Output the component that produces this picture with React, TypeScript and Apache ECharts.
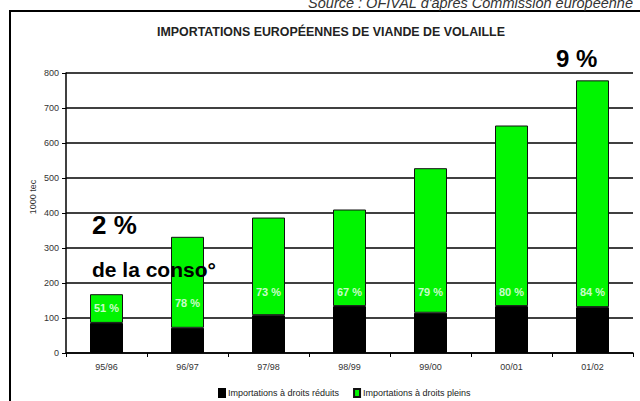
import React, { useEffect, useRef } from "react";
import * as echarts from "echarts";

const categories = ["95/96", "96/97", "97/98", "98/99", "99/00", "00/01", "01/02"];
const reduits = [86, 72, 108, 134, 115, 134, 131];
const pleins = [82, 260, 279, 276, 413, 516, 648];
const pctLabels = ["51 %", "78 %", "73 %", "67 %", "79 %", "80 %", "84 %"];
const pctLabelPos = [129, 144, 174, 174, 174, 174, 174];
const yTicks = { min: 0, max: 800, interval: 100 };

const FONT = "'Liberation Sans', Arial, sans-serif";

export default function App() {
  const ref = useRef<HTMLDivElement>(null);
  useEffect(() => {
    if (!ref.current) return;
    const chart = echarts.init(ref.current, null, { renderer: "svg" });
    chart.setOption({
      animation: false,
      backgroundColor: "#ffffff",
      textStyle: { fontFamily: FONT },
      grid: { left: 66, right: 7, top: 73, bottom: 48 },
      legend: {
        data: ["Importations à droits réduits", "Importations à droits pleins"],
        left: 213,
        top: 383,
        itemWidth: 6,
        itemHeight: 8,
        itemGap: 14,
        icon: "rect",
        textStyle: { fontSize: 9, color: "#222", fontFamily: FONT, padding: [0, 0, 0, -2] },
      },
      xAxis: {
        type: "category",
        data: categories,
        axisLine: { lineStyle: { color: "#000", width: 1.5 } },
        axisTick: { show: true, length: 4, lineStyle: { color: "#000" } },
        axisLabel: { fontSize: 9, color: "#333", margin: 9, fontFamily: FONT },
      },
      yAxis: {
        type: "value",
        min: yTicks.min,
        max: yTicks.max,
        interval: yTicks.interval,
        axisLine: { show: true, lineStyle: { color: "#000", width: 1.5 } },
        axisTick: { show: true, length: 4, inside: false, lineStyle: { color: "#000" } },
        axisLabel: { fontSize: 9, color: "#333", margin: 7, fontFamily: FONT },
        splitLine: { show: true, lineStyle: { color: "#000", width: 1.5 } },
      },
      series: [
        {
          name: "Importations à droits réduits",
          type: "bar",
          stack: "t",
          data: reduits,
          barWidth: 33,
          itemStyle: { color: "#000", borderColor: "#000", borderWidth: 1 },
        },
        {
          name: "Importations à droits pleins",
          type: "bar",
          stack: "t",
          data: pleins,
          barWidth: 33,
          itemStyle: { color: "#00f500", borderColor: "#111", borderWidth: 1 },
        },
        {
          name: "pct",
          type: "scatter",
          data: pctLabelPos,
          symbolSize: 0,
          silent: true,
          z: 5,
          label: {
            show: true,
            position: "inside",
            formatter: (p: any) => pctLabels[p.dataIndex],
            color: "#fff",
            fontWeight: "bold",
            fontSize: 11,
            fontFamily: FONT,
          },
        },
      ],
      graphic: [
        {
          type: "rect",
          shape: { x: 10, y: 11, width: 700, height: 500 },
          style: { fill: "none", stroke: "#000", lineWidth: 2 },
          z: -1,
        },
        {
          type: "text",
          x: 633,
          y: 10,
          z: 100,
          style: {
            text: "Source : OFIVAL d'après Commission européenne",
            fontSize: 14.5,
            fontStyle: "italic",
            fontFamily: FONT,
            fill: "#333",
            textAlign: "right",
            textVerticalAlign: "bottom",
          },
        },
        {
          type: "text",
          x: 331,
          y: 32,
          z: 100,
          style: {
            text: "IMPORTATIONS EUROPÉENNES DE VIANDE DE VOLAILLE",
            fontSize: 12.4,
            fontWeight: "bold",
            fontFamily: FONT,
            fill: "#222",
            textAlign: "center",
            textVerticalAlign: "middle",
          },
        },
        {
          type: "text",
          x: 33,
          y: 197,
          z: 100,
          rotation: Math.PI / 2,
          style: {
            text: "1000 tec",
            fontSize: 9,
            fontFamily: FONT,
            fill: "#333",
            textAlign: "center",
            textVerticalAlign: "middle",
          },
        },
        {
          type: "text",
          x: 92,
          y: 225,
          z: 100,
          style: {
            text: "2 %",
            fontSize: 26,
            fontWeight: "bold",
            fontFamily: FONT,
            fill: "#000",
            textVerticalAlign: "middle",
          },
        },
        {
          type: "text",
          x: 92,
          y: 269,
          z: 100,
          style: {
            text: "de la conso°",
            fontSize: 21,
            fontWeight: "bold",
            fontFamily: FONT,
            fill: "#000",
            textVerticalAlign: "middle",
          },
        },
        {
          type: "text",
          x: 556,
          y: 58,
          z: 100,
          style: {
            text: "9 %",
            fontSize: 24,
            fontWeight: "bold",
            fontFamily: FONT,
            fill: "#000",
            textVerticalAlign: "middle",
          },
        },
      ],
    });
    return () => chart.dispose();
  }, []);
  return (
    <div
      ref={ref}
      style={{ position: "fixed", left: 0, top: 0, width: 640, height: 401 }}
    />
  );
}
